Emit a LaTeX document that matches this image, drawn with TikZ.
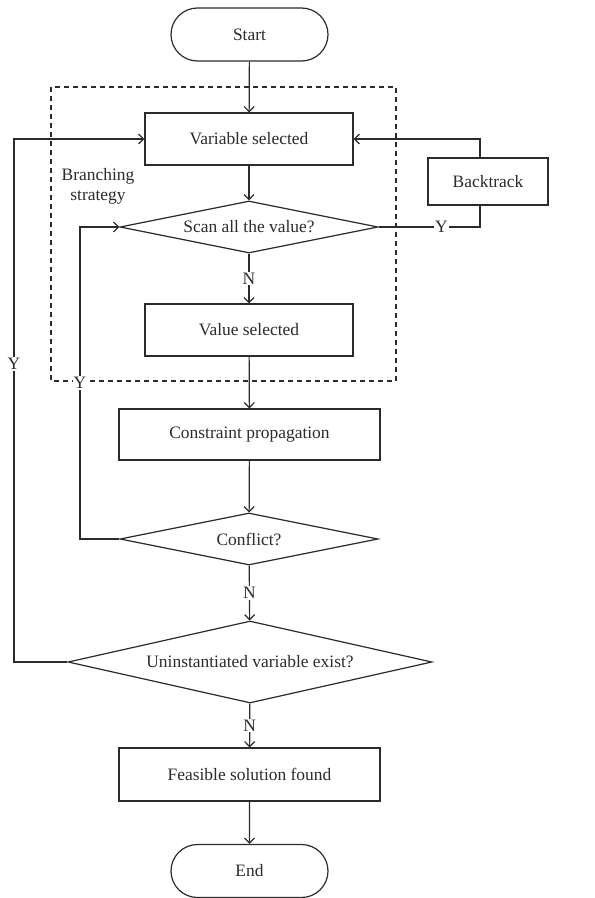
\documentclass[tikz,border=0pt]{standalone}
\usepackage{fontspec}
\setmainfont{Liberation Serif}
\usetikzlibrary{shapes.geometric,shapes.misc,arrows.meta}
\definecolor{ink}{HTML}{2B2B2B}
\begin{document}
\begin{tikzpicture}[x=1bp,y=-1bp,
  every node/.style={font=\fontsize{17.5}{20}\selectfont, text=ink},
  line/.style={draw=ink, line width=1.2bp},
  arr/.style={line, -{Straight Barb[length=5bp,width=10bp]}},
  proc/.style={line, rectangle, minimum height=52bp, inner sep=0pt},
  term/.style={line, rounded rectangle, minimum width=157bp, minimum height=53bp, inner sep=0pt},
  decision/.style={line, diamond, inner sep=0pt},
  lbl/.style={fill=white, inner sep=1bp},
]
\useasboundingbox (0,0) rectangle (595,898);

% branching strategy frame
\draw[line, dash pattern=on 5bp off 4bp] (51,87) rectangle (396,381);
\node[align=center] (bs) at (98,186) {Branching\\strategy};

% main column
\node[term] (start) at (249.5,34.5) {Start};
\node[proc, minimum width=208bp] (var) at (249,139) {Variable selected};
\node[decision, aspect=4.96, minimum width=258bp, minimum height=52bp] (scan) at (249,227) {Scan all the value?};
\node[proc, minimum width=208bp] (val) at (249,330) {Value selected};
\node[proc, minimum width=261bp, minimum height=51bp] (cp) at (249.5,434.5) {Constraint propagation};
\node[decision, aspect=4.96, minimum width=258bp, minimum height=52bp] (conf) at (249,539) {Conflict?};
\node[decision, aspect=4.44, minimum width=364bp, minimum height=82bp] (uninst) at (250,662) {Uninstantiated variable exist?};
\node[proc, minimum width=261bp, minimum height=53bp] (feas) at (249.5,774.5) {Feasible solution found};
\node[term] (end) at (249.5,871) {End};
\node[proc, minimum width=120bp, minimum height=47bp] (back) at (488,181.5) {Backtrack};

% routing columns for the loops
\coordinate (bkx) at (480,0);
\coordinate (lx) at (80,0);
\coordinate (ox) at (14,0);

% straight flow
\draw[arr] (start) -- (var);
\draw[arr] (var) -- (scan);
\draw[arr] (scan) -- node[lbl]{N} (val);
\draw[arr] (val) -- (cp);
\draw[arr] (cp) -- (conf);
\draw[arr] (conf) -- node[lbl]{N} (uninst);
\draw[arr] (uninst) -- node[lbl]{N} (feas);
\draw[arr] (feas) -- (end);

% backtrack loop
\draw[line] (scan.east) -- node[lbl, pos=0.62]{Y} (scan.east -| bkx) -- (bkx |- back.south);
\draw[arr] (bkx |- back.north) -- (bkx |- var.east) -- (var.east);

% conflict loop
\draw[arr] (conf.west) -- (conf.west -| lx) -- node[lbl, pos=0.5]{Y} (lx |- scan.west) -- (scan.west);

% next variable loop
\draw[arr] (uninst.west) -- (uninst.west -| ox) -- node[lbl, pos=0.57]{Y} (ox |- var.west) -- (var.west);
\end{tikzpicture}
\end{document}
